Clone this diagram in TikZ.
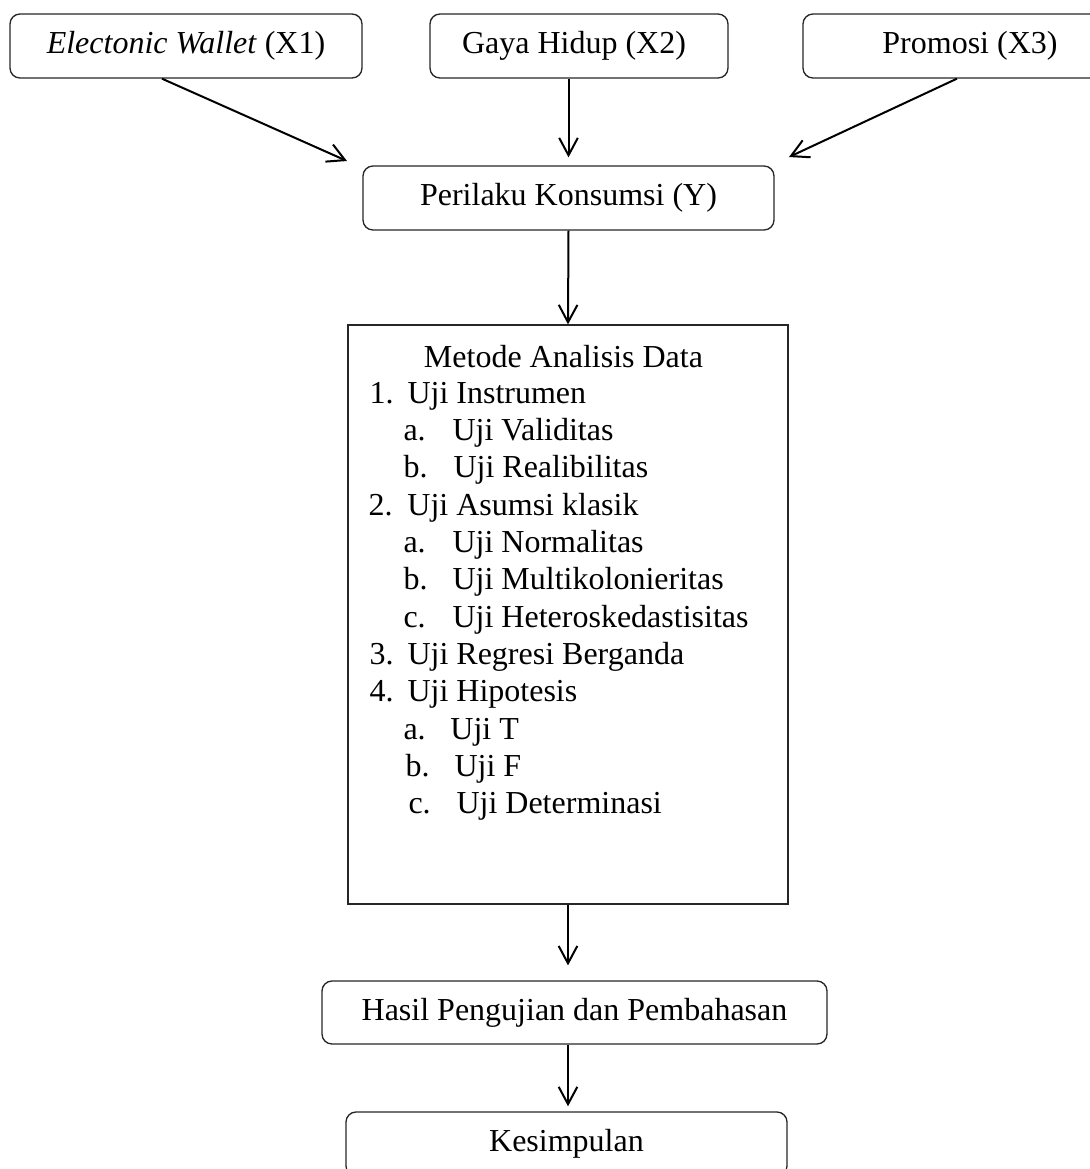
\documentclass[tikz,border=0pt]{standalone}
\usepackage{fontspec}
\setmainfont{Liberation Serif}
\usetikzlibrary{arrows.meta,calc}
\begin{document}
\begin{tikzpicture}[x=0.375pt,y=-0.375pt,
  txt/.style={font=\fontsize{12pt}{14pt}\selectfont, inner sep=0pt},
  rbox/.style={txt, draw=black!85, line width=0.5pt, rounded corners=3.75pt, minimum height=24pt},
  sbox/.style={draw=black!85, line width=0.5pt, inner sep=0pt},
  lst/.style={txt, anchor=base west},
  arr/.style={line width=0.75pt, -{Straight Barb[length=6.5pt,width=7pt,line width=0.75pt]}}]
\useasboundingbox (0,0) rectangle (1090,1169);
\clip (0,0) rectangle (1090,1169);
% boxes
\node[rbox, minimum width=132pt] (x1) at (186,46) {\textit{Electonic Wallet} (X1)};
\node[rbox, minimum width=111.75pt] (x2) at (579,46) {Gaya Hidup (X2)\hspace*{3.75pt}};
\node[rbox, minimum width=125.25pt] (x3) at (970,46) {Promosi (X3)};
\node[rbox, minimum width=154.125pt] (y) at (568.5,198) {Perilaku Konsumsi (Y)};
\node[sbox, minimum width=165pt, minimum height=217.125pt] (metode) at (568,614.5) {};
\node[rbox, minimum width=189.375pt, minimum height=23.625pt] (hasil) at (574.5,1012.5) {Hasil Pengujian dan Pembahasan};
\node[rbox, minimum width=165.375pt] (kes) at (566.5,1144) {Kesimpulan};
% list inside Metode box
\node[txt, anchor=base] (mt) at (563.5,367) {Metode Analisis Data};
\node[lst] (l1) at (369,403.3) {\makebox[14.25pt][l]{1.}Uji Instrumen};
\node[lst] (l1a) at (403,440.6) {\makebox[18.4pt][l]{a.}Uji Validitas};
\node[lst] (l1b) at (403,477.9) {\makebox[18.75pt][l]{b.}Uji Realibilitas};
\node[lst] (l2) at (368,515.2) {\makebox[14.6pt][l]{2.}Uji Asumsi klasik};
\node[lst] (l2a) at (403,552.5) {\makebox[18.4pt][l]{a.}Uji Normalitas};
\node[lst] (l2b) at (403,589.8) {\makebox[18.4pt][l]{b.}Uji Multikolonieritas};
\node[lst] (l2c) at (403,627.1) {\makebox[18.4pt][l]{c.}Uji Heteroskedastisitas};
\node[lst] (l3) at (369,664.4) {\makebox[14.25pt][l]{3.}Uji Regresi Berganda};
\node[lst] (l4) at (369,701.7) {\makebox[14.25pt][l]{4.}Uji Hipotesis};
\node[lst] (l4a) at (403,739) {\makebox[17.6pt][l]{a.}Uji T};
\node[lst] (l4b) at (405,776.3) {\makebox[18.4pt][l]{b.}Uji F};
\node[lst] (l4c) at (408,813.6) {\makebox[18pt][l]{c.}Uji Determinasi};
% arrow ends
\coordinate (tipa) at (347,161);
\coordinate (tipc) at (789,157);
% connectors
\draw[arr] ([xshift=-9pt]x1.south) -- (tipa);
\draw[arr, shorten >=3pt] (x2.south -| y.north) -- (y.north);
\draw[arr] ([xshift=-4.9pt]x3.south) -- (tipc);
\draw[arr] (y.south) -- (metode.north);
\draw[arr, shorten >=5.6pt] (metode.south) -- (metode.south |- hasil.north);
\draw[arr, shorten >=1.9pt] (hasil.south -| metode.south) -- (metode.south |- kes.north);
\end{tikzpicture}
\end{document}
